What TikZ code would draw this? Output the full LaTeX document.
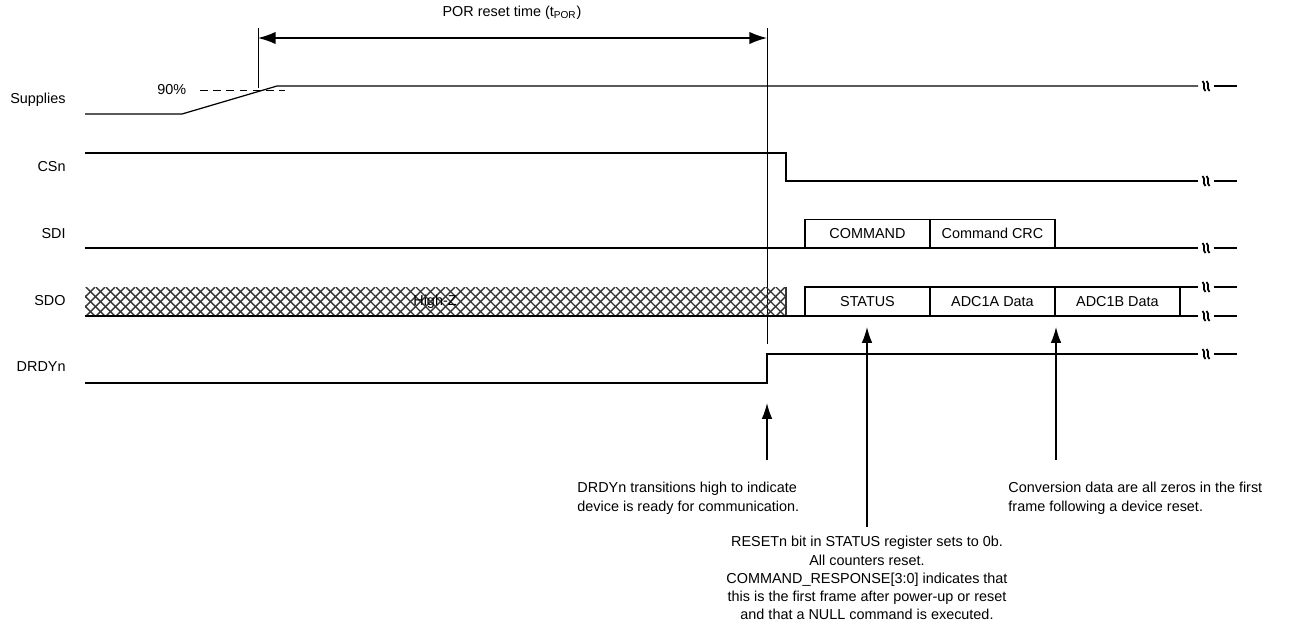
\documentclass[tikz,border=0pt]{standalone}
\usepackage{fontspec}
\setmainfont{Liberation Sans}
\usetikzlibrary{arrows.meta,positioning}

\tikzset{
  sig/.style={line width=0.7pt},
  fld/.style={draw,line width=0.7pt,minimum width=2.5cm,minimum height=0.57cm,
    inner sep=0pt,outer sep=0pt,anchor=south west},
  lbl/.style={anchor=east,inner sep=0pt},
  note/.style={inner sep=0pt,align=left,anchor=north west},
  hatch/.style={line width=0.8pt,black!80},
  sigbreak/.pic={
    \draw[line width=1pt] (-3.5,-5) .. controls (0,-2) and (-4,2) .. (-0.5,5);
    \draw[line width=1pt] (0.5,-5) .. controls (4,-2) and (0,2) .. (3.5,5);
  }
}

\begin{document}
\begin{tikzpicture}[x=0.02cm,y=-0.02cm,line width=0.5pt,font=\fontsize{8.2}{10.4}\selectfont]
  \useasboundingbox (0,0) rectangle (1291,637);

  % signal names
  \node[lbl] (supplies) at (66,100) {Supplies};
  \node[lbl] (csn) at (66,167) {CSn};
  \node[lbl] (sdi) at (66,234) {SDI};
  \node[lbl] (sdo) at (66,301) {SDO};
  \node[lbl] (drdyn) at (66,367) {DRDYn};

  % POR reset time
  \draw (258,28) -- (258,88);
  \draw (767,28) -- (767,344);
  \draw[line width=0.8pt,{Latex[length=10pt,width=7pt]}-{Latex[length=10pt,width=7pt]}] (258,38) -- (767,38);
  \node (por) at (512,13) {POR reset time (t\textsubscript{POR})};

  % Supplies
  \draw[sig] (85,114) -- (182,114) -- (277,86) -- (1198,86);
  \draw[dash pattern=on 4.5pt off 3pt] (200,90) -- (285,90);
  \node[anchor=west,inner sep=0pt] (pct) at (157,90) {90\%};

  % CSn
  \draw[sig] (85,153) -- (786,153) -- (786,181) -- (1198,181);

  % SDI
  \draw[sig] (85,248) -- (1198,248);
  \node[fld] (cmd) at (805,248) {COMMAND};
  \node[fld,right=0pt of cmd] (crc) {Command CRC};

  % SDO
  \begin{scope}
    \clip (85,287) rectangle (786,316);
    \foreach \i in {56,66,...,786} {
      \draw[hatch] (\i,287) -- ++(29,29);
      \draw[hatch] (\i,316) -- ++(29,-29);
    }
  \end{scope}
  \draw[hatch] (786,287) -- (786,316);
  \node (hiz) at (435,302) {High-Z};
  \draw[sig] (85,316) -- (1198,316);
  \draw[sig] (805,287) -- (1198,287);
  \node[fld,minimum height=0.58cm] (stat) at (805,316) {STATUS};
  \node[fld,minimum height=0.58cm,right=0pt of stat] (adca) {ADC1A Data};
  \node[fld,minimum height=0.58cm,right=0pt of adca] (adcb) {ADC1B Data};

  % DRDYn
  \draw[sig] (85,383) -- (767,383) -- (767,354) -- (1198,354);

  % breaks
  \foreach \y in {86,181,248,287,316,354} {
    \pic at (1206,\y) {sigbreak};
    \draw[sig] (1214,\y) -- (1237,\y);
  }

  % notes
  \coordinate (drdytip) at (767,403);
  \coordinate (stattip) at (867,327);
  \coordinate (adcbtip) at (1056,327);
  \draw[line width=0.8pt,-{Latex[length=9pt,width=6pt]}] (767,460) -- (drdytip);
  \draw[line width=0.8pt,-{Latex[length=9pt,width=6pt]}] (867,527) -- (stattip);
  \draw[line width=0.8pt,-{Latex[length=9pt,width=6pt]}] (1056,460) -- (adcbtip);

  \node[note] (n1) at (577,482) {DRDYn transitions high to indicate\\device is ready for communication.};
  \node[note] (n3) at (1008,482) {Conversion data are all zeros in the first\\frame following a device reset.};
  \node[note,align=center,anchor=north] (n2) at (867,536) {RESETn bit in STATUS register sets to 0b.\\All counters reset.\\COMMAND\_RESPONSE[3:0] indicates that\\this is the first frame after power-up or reset\\and that a NULL command is executed.};
\end{tikzpicture}
\end{document}
